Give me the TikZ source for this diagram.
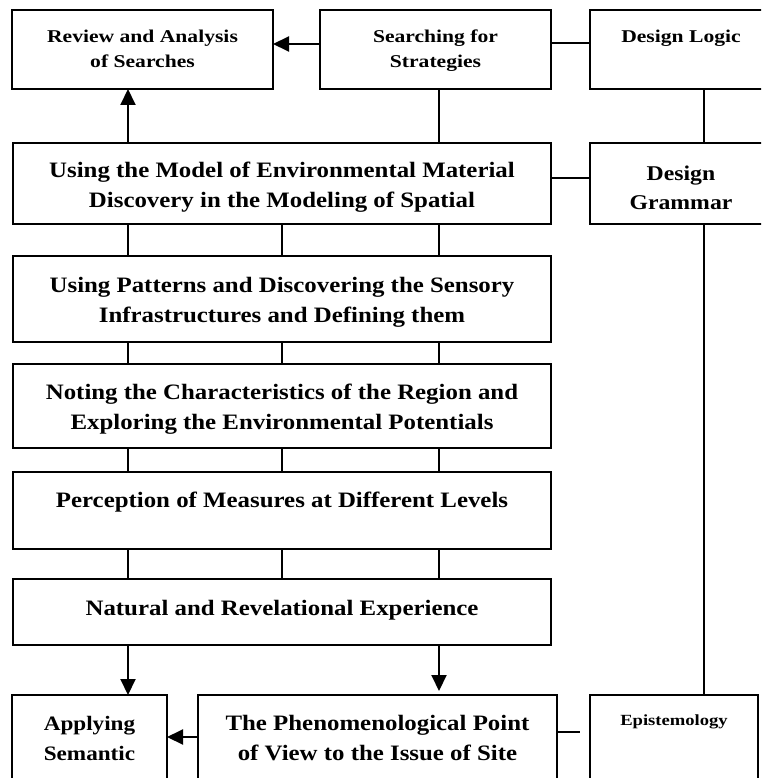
\documentclass[tikz,border=0pt]{standalone}
\usepackage{fontspec}
\setmainfont{Liberation Serif}[FakeStretch=1.2]
\newfontfamily\bodyfont{Liberation Serif}[FakeStretch=1.13]
\usetikzlibrary{arrows.meta}
% top-aligned, centred box text: #1 width, #2 height, #3 depth of first baseline, #4 lines
\newcommand\boxtext[4]{\parbox[t][#2][t]{#1}{\centering\rule{0pt}{#3}#4\par}}
\begin{document}
\begin{tikzpicture}[x=1pt,y=-1pt,
  frame/.style={draw, line width=2pt, inner sep=0pt, outer sep=0pt, anchor=north west},
  hdr/.style={frame, font=\bfseries\fontsize{18}{25}\selectfont},
  main/.style={frame, font=\bodyfont\bfseries\fontsize{22}{30}\selectfont},
  link/.style={line width=2pt},
  arr/.style={link, -{Triangle[length=16pt,width=15pt]}}]
\clip (0,0) rectangle (761,778);

% boxes
\node[hdr] (rev) at (12,10) {\boxtext{261pt}{79pt}{33pt}{Review and Analysis\\of Searches}};
\node[hdr] (srch) at (320,10) {\boxtext{231pt}{79pt}{33pt}{Searching for\\Strategies}};
\node[hdr] (logic) at (590,10) {\boxtext{182pt}{79pt}{33pt}{Design Logic}};
\node[main] (model) at (13,143) {\boxtext{538pt}{81pt}{35pt}{Using the Model of Environmental Material\\Discovery in the Modeling of Spatial}};
\node[frame, font=\bodyfont\bfseries\fontsize{21}{29}\selectfont] (gram) at (590,143) {\boxtext{182pt}{81pt}{37pt}{Design\\Grammar}};
\node[main] (pat) at (13,256) {\boxtext{538pt}{86pt}{36pt}{Using Patterns and Discovering the Sensory\\Infrastructures and Defining them}};
\node[main] (note) at (13,364) {\boxtext{538pt}{84pt}{35pt}{Noting the Characteristics of the Region and\\Exploring the Environmental Potentials}};
\node[main] (perc) at (13,472) {\boxtext{538pt}{77pt}{35pt}{Perception of Measures at Different Levels}};
\node[main] (nat) at (13,579) {\boxtext{538pt}{66pt}{36pt}{Natural and Revelational Experience}};
\node[frame, font=\bodyfont\bfseries\fontsize{20.5}{30}\selectfont] (appl) at (12,695) {\boxtext{155pt}{100pt}{35pt}{Applying\\Semantic}};
\node[main] (phen) at (198,695) {\boxtext{359pt}{100pt}{35pt}{The Phenomenological Point\\of View to the Issue of Site}};
\node[frame, font=\bfseries\fontsize{15.5}{20}\selectfont] (epis) at (590,695) {\boxtext{168pt}{100pt}{30pt}{Epistemology}};

% connector columns
\coordinate (c1) at (128,0);
\coordinate (c2) at (282,0);
\coordinate (c3) at (439,0);
\coordinate (c4) at (704,0);
\coordinate (stub) at (580,732);

% connectors
\draw[arr] ([yshift=5.5pt]srch.west) -- ([yshift=5.5pt]rev.east);
\draw[link] ([yshift=6.5pt]srch.east) -- ([yshift=6.5pt]logic.west);
\draw[arr] (c1 |- model.north) -- (c1 |- rev.south);
\draw[link] (c3 |- srch.south) -- (c3 |- model.north);
\draw[link] (c4 |- logic.south) -- (c4 |- gram.north);
\draw[link] ([yshift=5.5pt]model.east) -- ([yshift=5.5pt]gram.west);
\foreach \u/\l in {model/pat, pat/note, note/perc, perc/nat}
  \foreach \c in {c1,c2,c3}
    \draw[link] (\c |- \u.south) -- (\c |- \l.north);
\draw[arr] (c1 |- nat.south) -- (c1 |- appl.north);
\draw[arr, shorten >=4pt] (c3 |- nat.south) -- (c3 |- phen.north);
\draw[link] (c4 |- gram.south) -- (c4 |- epis.north);
\draw[arr] ([yshift=8pt]phen.west) -- ([yshift=8pt]appl.east);
\draw[link] (stub -| phen.east) -- (stub);
\end{tikzpicture}
\end{document}
